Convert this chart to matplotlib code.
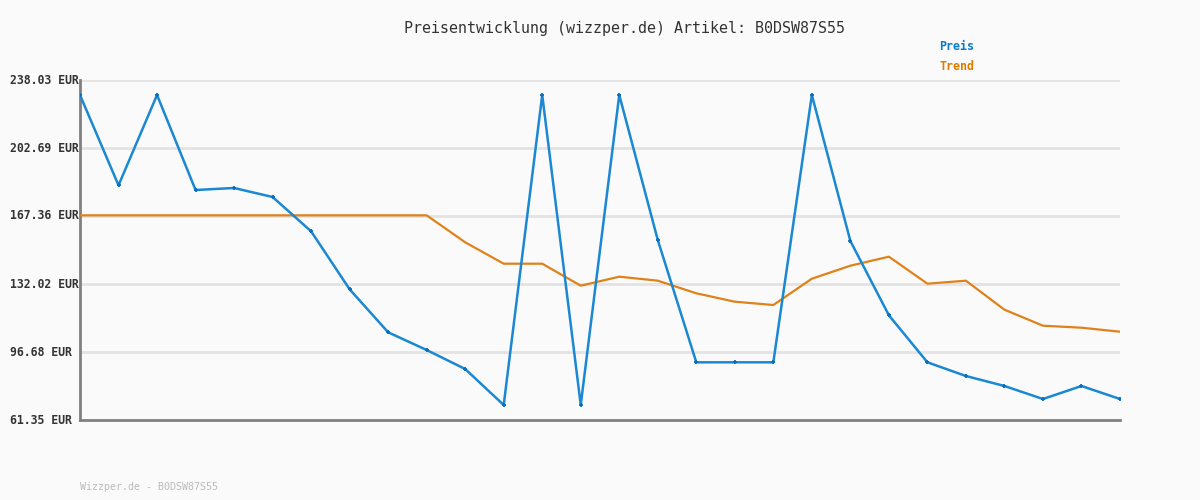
import matplotlib
matplotlib.use("Agg")
import matplotlib.pyplot as plt

# Daten
preis = [230.24, 183.31, 230.24, 180.87, 181.91, 177.23, 159.41, 129.27, 106.92, 97.72,
         87.85, 69.14, 230.24, 69.14, 230.24, 154.89, 91.33, 91.33, 91.33, 230.24,
         154.37, 115.76, 91.33, 84.21, 79.02, 72.26, 79.02, 72.26]
trend = [167.7, 167.7, 167.7, 167.7, 167.7, 167.7, 167.7, 167.7, 167.7, 167.7,
         153.69, 142.57, 142.57, 131.14, 135.82, 133.74, 127.19, 122.82, 121.11, 134.78,
         141.53, 146.21, 132.18, 133.74, 118.67, 110.35, 109.31, 107.23]
y_ticks = [61.35, 96.68, 132.02, 167.36, 202.69, 238.03]
titel = "Preisentwicklung (wizzper.de) Artikel: B0DSW87S55"
fusszeile = "Wizzper.de - B0DSW87S55"

mono = "DejaVu Sans Mono"
bg = "#fafafa"

fig = plt.figure(figsize=(12, 5), dpi=100, facecolor=bg)
ax = fig.add_axes([80 / 1200, 80 / 500, 1040 / 1200, 340 / 500], facecolor=bg)

x = list(range(len(preis)))
ax.plot(x, trend, color="#e0821a", linewidth=1.6, zorder=3)
ax.plot(x, preis, color="#1a88d2", linewidth=1.8, marker="+", markersize=3,
        markeredgewidth=1.3, markeredgecolor="#0a6fc0", zorder=4)

ax.set_xlim(0, len(preis) - 1)
ax.set_ylim(y_ticks[0], y_ticks[-1])
ax.set_xticks([])
ax.set_yticks(y_ticks)
ax.set_yticklabels([])
ax.tick_params(axis="y", length=0)
for v in y_ticks[1:]:
    ax.axhline(v, color="#e3e3e3", linewidth=2, zorder=1)

for s in ["top", "right"]:
    ax.spines[s].set_visible(False)
for s in ["left", "bottom"]:
    ax.spines[s].set_color("#808080")
    ax.spines[s].set_linewidth(2)

# Y-Beschriftungen linksbuendig
for v in y_ticks:
    yy = ax.transData.transform((0, v))[1] / 500
    fig.text(10 / 1200, yy, f"{v:.2f} EUR", family=mono, fontsize=8.3,
             fontweight="bold", color="#333333", ha="left", va="center")

fig.text(624 / 1200, 1 - 28 / 500, titel, family=mono, fontsize=10.8,
         color="#333333", ha="center", va="center")
fig.text(939 / 1200, 1 - 47 / 500, "Preis", family=mono, fontsize=8.4,
         fontweight="bold", color="#0a7bc8", ha="left", va="center")
fig.text(939 / 1200, 1 - 67 / 500, "Trend", family=mono, fontsize=8.4,
         fontweight="bold", color="#e07b00", ha="left", va="center")
fig.text(80 / 1200, 1 - 487 / 500, fusszeile, family=mono, fontsize=7.2,
         color="#bbbbbb", ha="left", va="center")

fig.savefig("out.png", dpi=100, facecolor=bg)
